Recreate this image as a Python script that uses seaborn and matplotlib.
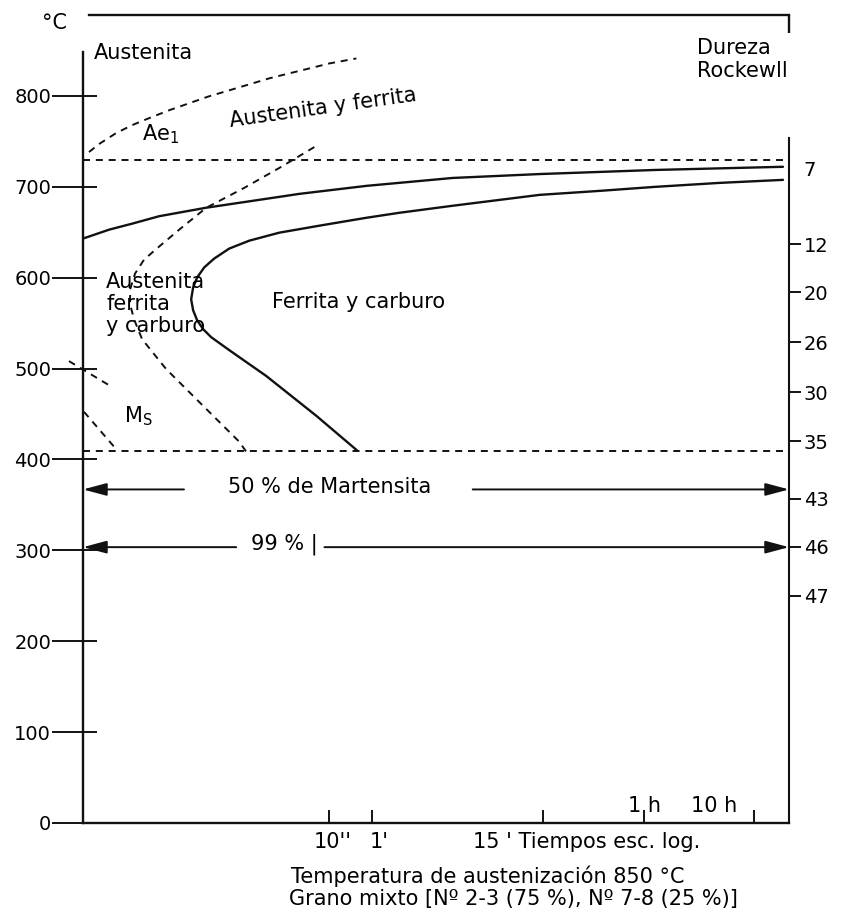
import matplotlib
matplotlib.use("Agg")
import matplotlib.pyplot as plt
import seaborn as sns

# ---------------------------------------------------------------- data
# Temperature axis (°C)
temp_ticks = [0, 100, 200, 300, 400, 500, 600, 700, 800]

# Rockwell hardness scale (right), placed at the temperature it belongs to
hardness_labels = ["7", "12", "20", "26", "30", "35", "43", "46", "47"]
hardness_temp = [720, 637, 584, 529, 474, 420, 357, 304, 250]

# Time axis, logarithmic; positions in axis units (0-100)
time_tick_pos = [34.8, 41.0, 65.1, 79.5, 95.0]
time_labels_below = ["10''", "1'"]
time_labels_below_pos = [35.4, 42.0]
time_axis_title = "15 ' Tiempos esc. log."
time_axis_title_pos = 55.2
time_labels_above = ["1 h", "10 h"]
time_labels_above_pos = [79.6, 89.4]

# Ae1 critical temperature (horizontal dashed line)
ae1_temp = 730
# Upper dashed boundary (Ae3)
ae3_time = [0.85, 2.27, 4.68, 6.95, 9.36, 12.2, 15.04, 17.87, 20.71, 23.55,
            26.38, 29.22, 32.06, 34.89, 38.72]
ae3_temp = [738.2, 747.0, 759.0, 767.8, 775.5, 784.2, 791.9, 799.6, 806.1,
            812.7, 819.3, 824.8, 830.2, 835.7, 841.2]

# Beginning of transformation (solid)
start_time = [0.0, 3.69, 6.95, 10.78, 17.4, 23.55, 27.8, 30.64, 40.14,
              52.34, 64.68, 81.0, 99.15]
start_temp = [643, 652.8, 659.4, 667.6, 676.9, 684.0, 688.9, 692.2, 701,
              709.7, 714, 718.5, 722]

# End of transformation (solid C-curve)
end_time = [99.15, 90.21, 81.0, 73.19, 64.68, 52.34, 44.82, 40.14, 33.48,
            27.80, 23.55, 20.71, 18.58, 17.16, 16.17, 15.60, 15.32, 15.60,
            16.17, 17.02, 18.16, 20.71, 25.96, 33.05, 38.87]
end_temp = [707.6, 704.3, 699.9, 695.5, 691.1, 679.1, 671.4, 665.9, 657.2,
            649.5, 640.7, 632.0, 621.0, 611.2, 600.2, 589.3, 576.1, 564.1,
            553.1, 543.3, 534.5, 520.3, 491.8, 448.0, 409.6]

# Start of ferrite precipitation (dashed C-curve)
ferrite_time = [32.77, 27.80, 22.84, 17.45, 13.62, 10.78, 8.65, 7.38, 6.67,
                6.67, 7.23, 8.37, 10.07, 11.77, 16.45, 22.13, 23.12]
ferrite_temp = [743.7, 720.7, 698.8, 676.9, 652.8, 634.2, 619.9, 604.6,
                587.1, 570.6, 554.2, 532.3, 515.9, 499.5, 463.3, 419.5,
                408.5]

# Martensite start region (short dashed segments)
ms_upper_time = [-1.99, 4.11]
ms_upper_temp = [508.2, 479.7]
ms_lower_time = [0.14, 4.40]
ms_lower_temp = [452.4, 414.0]

# Lower limit of the diagram (dashed)
lower_limit_temp = 409

# Martensite percentages
m50_temp = 367
m50_left_end = 14.3
m50_right_start = 55.2
m99_temp = 303.5
m99_left_end = 21.7
m99_right_start = 34.2

# ---------------------------------------------------------------- style
sns.set_style("white")
plt.rcParams["font.family"] = ["DejaVu Sans"]
plt.rcParams["axes.edgecolor"] = "black"
plt.rcParams["text.color"] = "black"
plt.rcParams["xtick.color"] = "black"
plt.rcParams["ytick.color"] = "black"

INK = "#111111"
SOLID_LW = 1.7
DASH_LW = 1.4
DASH = (0, (3.6, 3.0))
FS = 15
TICK_FS = 14

fig = plt.figure(figsize=(8.42, 9.16), dpi=100)
ax = fig.add_axes([83 / 842, 93 / 916, 706 / 842, 808 / 916])
ax.set_xlim(0, 100)
ax.set_ylim(0, 889)

# ---------------------------------------------------------------- curves
line_kw = dict(sort=False, estimator=None, ax=ax, color=INK)
sns.lineplot(x=ae3_time, y=ae3_temp, lw=DASH_LW, linestyle=DASH, **line_kw)
sns.lineplot(x=start_time, y=start_temp, lw=SOLID_LW, **line_kw)
sns.lineplot(x=end_time, y=end_temp, lw=SOLID_LW, **line_kw)
sns.lineplot(x=ferrite_time, y=ferrite_temp, lw=DASH_LW, linestyle=DASH,
             **line_kw)
sns.lineplot(x=ms_upper_time, y=ms_upper_temp, lw=DASH_LW, linestyle=DASH,
             clip_on=False, **line_kw)
sns.lineplot(x=ms_lower_time, y=ms_lower_temp, lw=DASH_LW, linestyle=DASH,
             **line_kw)

ax.axhline(ae1_temp, color=INK, lw=DASH_LW, linestyle=DASH)
ax.axhline(lower_limit_temp, color=INK, lw=DASH_LW, linestyle=DASH)

# Martensite arrows
arrow = dict(arrowstyle="-|>,head_length=1.2,head_width=0.32", color=INK,
             lw=1.4, mutation_scale=12, shrinkA=0, shrinkB=0)
ax.annotate("", xy=(0, m50_temp), xytext=(m50_left_end, m50_temp),
            arrowprops=arrow)
ax.annotate("", xy=(100, m50_temp), xytext=(m50_right_start, m50_temp),
            arrowprops=arrow)
ax.annotate("", xy=(0, m99_temp), xytext=(m99_left_end, m99_temp),
            arrowprops=arrow)
ax.annotate("", xy=(100, m99_temp), xytext=(m99_right_start, m99_temp),
            arrowprops=arrow)

# ---------------------------------------------------------------- axes
for side in ("left", "bottom", "top"):
    ax.spines[side].set_linewidth(1.7)
    ax.spines[side].set_color(INK)
ax.spines["right"].set_visible(False)
ax.spines["left"].set_bounds(0, 848)
ax.spines["top"].set_bounds(0.85, 100)
ax.plot([100, 100], [889, 869], color=INK, lw=1.7, clip_on=False,
        solid_capstyle="butt")

ax.set_yticks(temp_ticks)
ax.set_yticks(temp_ticks[1:], minor=True)
ax.yaxis.remove_overlapping_locs = False
ax.tick_params(axis="y", which="major", direction="out", length=22,
               width=1.3, pad=1, labelsize=TICK_FS, left=True)
ax.tick_params(axis="y", which="minor", direction="in", length=10,
               width=1.3, left=True)
ax.set_xticks(time_tick_pos)
ax.tick_params(axis="x", which="major", direction="in", length=9.5,
               width=1.3, labelbottom=False, bottom=True)
ax.tick_params(axis="x", which="minor", bottom=False)

tw = ax.twinx()
tw.set_ylim(ax.get_ylim())
tw.set_yticks(hardness_temp, labels=hardness_labels)
tw.tick_params(axis="y", direction="out", length=8.5, width=1.3, pad=2,
               labelsize=TICK_FS, right=True)
tw.yaxis.get_major_ticks()[0].tick2line.set_visible(False)
for side in ("left", "top", "bottom"):
    tw.spines[side].set_visible(False)
tw.spines["right"].set_linewidth(1.5)
tw.spines["right"].set_color(INK)
tw.spines["right"].set_bounds(0, 754)

# ---------------------------------------------------------------- text
ax.text(-4.0, 880, "°C", fontsize=FS, ha="center", va="center")
ax.text(1.6, 847, "Austenita", fontsize=FS, ha="left", va="center")
ax.text(8.4, 751, r"Ae$_1$", fontsize=FS, ha="left", va="baseline")
ax.text(34.0, 787, "Austenita y ferrita", fontsize=FS, ha="center",
        va="center", rotation=8, rotation_mode="anchor")
ax.text(86.9, 840, "Dureza\nRockewll", fontsize=FS, ha="left", va="center",
        linespacing=1.15)
ax.text(3.3, 571, "Austenita\nferrita\ny carburo", fontsize=FS, ha="left",
        va="center", linespacing=1.13)
ax.text(26.8, 573, "Ferrita y carburo", fontsize=FS, ha="left", va="center")
ax.text(5.8, 441, r"M$_\mathrm{S}$", fontsize=FS, ha="left", va="baseline")
ax.text(34.9, 370, "50 % de Martensita", fontsize=FS, ha="center",
        va="center")
ax.text(23.8, 307, "99 % |", fontsize=FS, ha="left", va="center")

for lab, pos in zip(time_labels_below, time_labels_below_pos):
    ax.text(pos, -21, lab, fontsize=FS, ha="center", va="center")
ax.text(time_axis_title_pos, -21, time_axis_title, fontsize=FS, ha="left",
        va="center")
for lab, pos in zip(time_labels_above, time_labels_above_pos):
    ax.text(pos, 19, lab, fontsize=FS, ha="center", va="center")

ax.text(29.5, -59, "Temperatura de austenización 850 °C", fontsize=FS,
        ha="left", va="center")
ax.text(29.2, -84, "Grano mixto [Nº 2-3 (75 %), Nº 7-8 (25 %)]",
        fontsize=FS, ha="left", va="center")

fig.savefig("out.png", dpi=100)
